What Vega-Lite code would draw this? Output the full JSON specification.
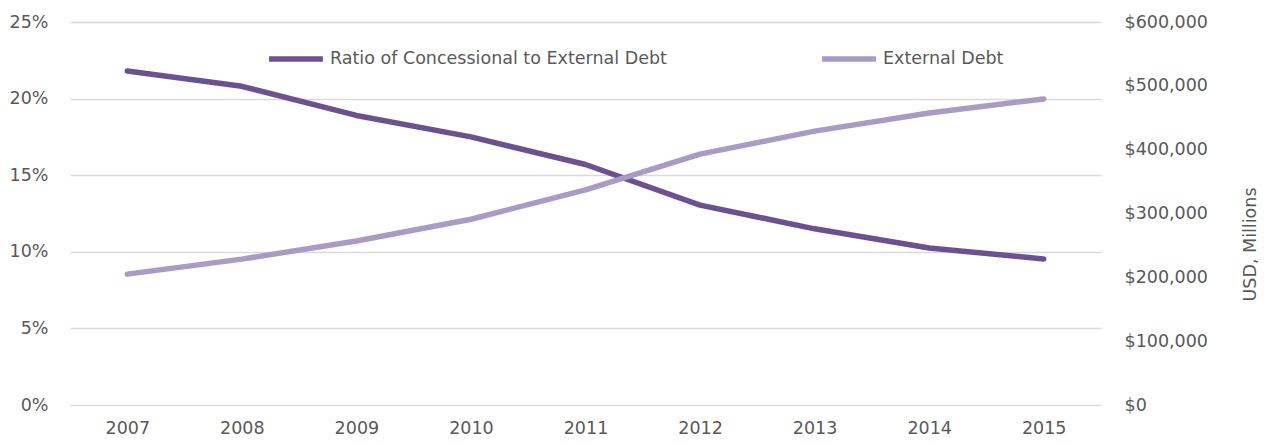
{
  "$schema": "https://vega.github.io/schema/vega-lite/v6.json",
  "width": 1031,
  "height": 383,
  "autosize": {"type": "none"},
  "padding": {"left": 70, "top": 22, "right": 173, "bottom": 41},
  "background": "white",
  "config": {
    "view": {"stroke": null},
    "font": "DejaVu Sans",
    "axis": {"labelFont": "DejaVu Sans", "labelColor": "#595959", "labelFontSize": 17.5, "titleFont": "DejaVu Sans", "titleColor": "#595959", "titleFontWeight": "normal", "titleFontSize": 17.5}
  },
  "data": {
    "values": [
      {"year": "2007", "ratio": 0.218, "debt": 205000},
      {"year": "2008", "ratio": 0.208, "debt": 228500},
      {"year": "2009", "ratio": 0.189, "debt": 257000},
      {"year": "2010", "ratio": 0.175, "debt": 291000},
      {"year": "2011", "ratio": 0.157, "debt": 337000},
      {"year": "2012", "ratio": 0.1305, "debt": 393000},
      {"year": "2013", "ratio": 0.115, "debt": 429000},
      {"year": "2014", "ratio": 0.1025, "debt": 457500},
      {"year": "2015", "ratio": 0.0953, "debt": 479500}
    ]
  },
  "encoding": {
    "x": {"field": "year", "type": "ordinal", "title": null,
      "scale": {"paddingInner": 0, "paddingOuter": 0.5},
      "axis": {"labelAngle": 0, "domain": false, "ticks": false, "labelPadding": 14, "grid": false}}
  },
  "layer": [
    {
      "mark": {"type": "line", "strokeWidth": 5.5, "strokeCap": "round", "strokeJoin": "round"},
      "encoding": {
        "y": {"field": "ratio", "type": "quantitative",
          "scale": {"domain": [0, 0.25]},
          "axis": {"title": null, "format": ".0%", "values": [0, 0.05, 0.1, 0.15, 0.2, 0.25], "domain": false, "ticks": false, "labelPadding": 22, "grid": true, "gridColor": "#d9d9d9", "gridWidth": 1.3}},
        "color": {"datum": "Ratio of Concessional to External Debt", "type": "nominal",
          "scale": {"domain": ["Ratio of Concessional to External Debt", "External Debt"], "range": ["#6b5190", "#a99bc3"]},
          "legend": {"title": null, "orient": "none", "legendX": 196, "legendY": 7, "direction": "horizontal", "symbolType": "stroke", "symbolSize": 2900, "symbolStrokeWidth": 5.5, "labelFontSize": 17.5, "labelFont": "DejaVu Sans", "labelColor": "#595959", "labelOffset": 4, "labelLimit": 600, "columnPadding": 144}}
      }
    },
    {
      "mark": {"type": "line", "strokeWidth": 5.5, "strokeCap": "round", "strokeJoin": "round"},
      "encoding": {
        "y": {"field": "debt", "type": "quantitative",
          "scale": {"domain": [0, 600000]},
          "axis": {"orient": "right", "title": "USD, Millions", "titleAngle": 270, "titleY": 222, "format": "$,.0f", "values": [0, 100000, 200000, 300000, 400000, 500000, 600000], "domain": false, "ticks": false, "labelPadding": 23, "grid": false, "titlePadding": 52}},
        "color": {"datum": "External Debt", "type": "nominal"}
      }
    }
  ],
  "resolve": {"scale": {"y": "independent"}}
}
